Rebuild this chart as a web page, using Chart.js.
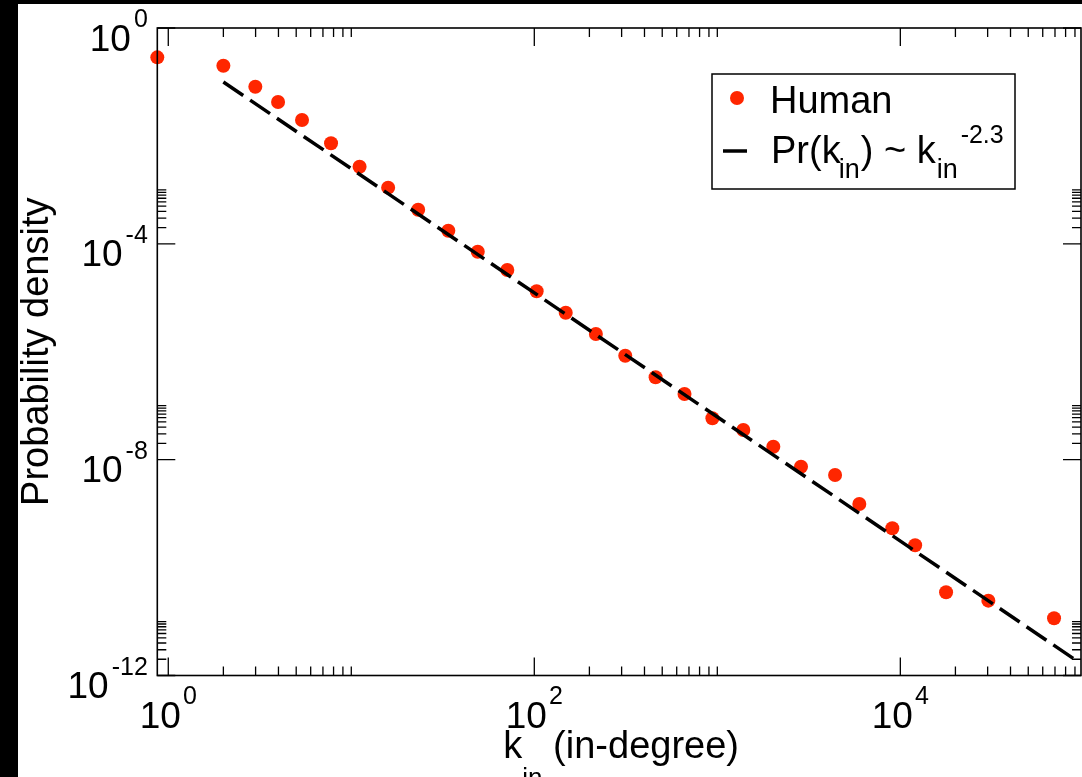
<!DOCTYPE html>
<html>
<head>
<meta charset="utf-8">
<script src="https://cdn.jsdelivr.net/npm/chart.js@4.4.0/dist/chart.umd.min.js"></script>
<style>
  html, body { margin: 0; padding: 0; background: #000; }
  #wrap { position: absolute; left: 18px; top: 4px; width: 1064px; height: 773px; background: #fff; overflow: hidden; }
  canvas { display: block; }
</style>
</head>
<body>
<div id="wrap"><canvas id="chart" width="1064" height="773"></canvas></div>
<script>
// in-degree distribution
const degree = [0.871, 2.0, 2.99, 3.98, 5.38, 7.75, 11.1, 15.9, 23.2, 33.9, 49.1, 71.2, 103, 148.5, 217,
  314, 460, 662, 940, 1387, 2023, 2866, 4400, 5970, 9040, 12050, 17780, 30270, 69180];
const density = [0.286, 0.200, 0.0817, 0.0425, 0.0197, 0.0073, 0.00269, 0.00110, 4.27e-4, 1.75e-4, 7.14e-5,
  3.27e-5, 1.32e-5, 5.29e-6, 2.13e-6, 8.45e-7, 3.36e-7, 1.65e-7, 5.85e-8, 3.55e-8, 1.74e-8, 7.41e-9,
  5.20e-9, 1.51e-9, 5.35e-10, 2.59e-10, 3.48e-11, 2.44e-11, 1.15e-11];

// power-law guide line, its two end points
const fitDegree = [2, 88000];
const fitDensity = [0.1, 2.08e-12];

const xMajor = [1, 100, 10000];
const xMajorExp = ['0', '2', '4'];
const yMajor = [1, 1e-4, 1e-8, 1e-12];
const yMajorExp = ['0', '-4', '-8', '-12'];
const minorSteps = [2, 3, 4, 5, 6, 7, 8, 9, 10];

const seriesName = 'Human';
const fitName = ['Pr(k', 'in', ') ~ k', 'in', '-2.3'];
const xTitle = ['k', 'in', ' (in-degree)'];
const yTitle = 'Probability density';

const FONT = '"Liberation Sans", Arial, Helvetica, sans-serif';
const RED = 'rgb(255, 38, 0)';

const toPoints = (xs, ys) => xs.map((v, i) => ({ x: v, y: ys[i] }));

// draws a run of text pieces (normal / sub / super) and returns its width
const textRun = (ctx, parts, x, y, draw) => {
  let cx = x;
  parts.forEach((p) => {
    ctx.font = `${p.size}px ${FONT}`;
    if (draw) ctx.fillText(p.t, cx, y + (p.dy || 0));
    cx += ctx.measureText(p.t).width + (p.gap || 0);
  });
  return cx - x;
};

const framePlugin = {
  id: 'frame',
  afterDraw(chart) {
    const { ctx, chartArea: a, scales: { x, y } } = chart;
    ctx.save();
    ctx.fillStyle = '#000';
    ctx.strokeStyle = '#000';

    // ticks, mirrored on all four sides
    ctx.lineWidth = 1.3;
    const xTick = (v, len) => {
      const px = x.getPixelForValue(v);
      if (px < a.left - 0.5 || px > a.right + 0.5) return;
      ctx.beginPath();
      ctx.moveTo(px, a.bottom); ctx.lineTo(px, a.bottom - len);
      ctx.moveTo(px, a.top); ctx.lineTo(px, a.top + len);
      ctx.stroke();
    };
    const yTick = (v, len) => {
      const py = y.getPixelForValue(v);
      if (py < a.top - 0.5 || py > a.bottom + 0.5) return;
      ctx.beginPath();
      ctx.moveTo(a.left, py); ctx.lineTo(a.left + len, py);
      ctx.moveTo(a.right, py); ctx.lineTo(a.right - len, py);
      ctx.stroke();
    };
    xMajor.forEach((v) => {
      xTick(v, 18);
      minorSteps.forEach((m) => xTick(v * m, 9));
    });
    yMajor.forEach((v) => {
      yTick(v, 18);
      minorSteps.forEach((m) => yTick(v * m, 9));
    });

    ctx.lineWidth = 1.6;
    ctx.strokeRect(a.left, a.top, a.right - a.left, a.bottom - a.top);

    // tick labels 10^n
    ctx.textAlign = 'left';
    ctx.textBaseline = 'alphabetic';
    xMajor.forEach((v, i) => {
      const parts = [{ t: '10', size: 37, gap: 2 }, { t: xMajorExp[i], size: 25, dy: -24 }];
      const w = textRun(ctx, parts, 0, 0, false);
      textRun(ctx, parts, x.getPixelForValue(v) - w / 2, a.bottom + 52.5, true);
    });
    yMajor.forEach((v, i) => {
      const parts = [{ t: '10', size: 37, gap: 3 }, { t: yMajorExp[i], size: 25, dy: -23.5 }];
      const w = textRun(ctx, parts, 0, 0, false);
      textRun(ctx, parts, a.left - 9.5 - w, y.getPixelForValue(v) + 22.5, true);
    });

    // axis titles
    const xParts = [{ t: xTitle[0], size: 38 }, { t: xTitle[1], size: 26, dy: 28 }, { t: xTitle[2], size: 38 }];
    const xw = textRun(ctx, xParts, 0, 0, false);
    textRun(ctx, xParts, (a.left + a.right) / 2 - xw / 2 + 2, a.bottom + 82, true);

    ctx.save();
    ctx.translate(a.left - 109.5, (a.top + a.bottom) / 2);
    ctx.rotate(-Math.PI / 2);
    ctx.textAlign = 'center';
    ctx.font = `38px ${FONT}`;
    ctx.fillText(yTitle, 0, 0);
    ctx.restore();

    // legend box
    const lx = a.right - 369;
    const ly = a.top + 46;
    ctx.lineWidth = 1.5;
    ctx.strokeRect(lx, ly, 303, 115);
    ctx.fillStyle = RED;
    ctx.beginPath();
    ctx.arc(lx + 25, ly + 24, 7, 0, Math.PI * 2);
    ctx.fill();
    ctx.fillStyle = '#000';
    ctx.font = `38px ${FONT}`;
    ctx.fillText(seriesName, lx + 58, ly + 39);
    ctx.lineWidth = 3.5;
    ctx.beginPath();
    ctx.moveTo(lx + 11, ly + 77);
    ctx.lineTo(lx + 35, ly + 77);
    ctx.stroke();
    textRun(ctx, [
      { t: fitName[0], size: 38, gap: -2 },
      { t: fitName[1], size: 27, dy: 15, gap: 1 },
      { t: fitName[2], size: 38, gap: 1 },
      { t: fitName[3], size: 27, dy: 15, gap: 3 },
      { t: fitName[4], size: 25, dy: -20 }
    ], lx + 59, ly + 89, true);

    ctx.restore();
  }
};

new Chart(document.getElementById('chart'), {
  type: 'scatter',
  data: {
    datasets: [
      {
        type: 'line',
        label: 'fit',
        data: toPoints(fitDegree, fitDensity),
        borderColor: '#000',
        borderWidth: 3.5,
        borderDash: [24, 8.35],
        pointRadius: 0,
        fill: false,
        clip: false,
        order: 0
      },
      {
        label: seriesName,
        data: toPoints(degree, density),
        backgroundColor: RED,
        borderWidth: 0,
        pointRadius: 7,
        clip: false,
        order: 1
      }
    ]
  },
  options: {
    responsive: false,
    animation: false,
    layout: {
      autoPadding: false,
      padding: { left: 139.3, top: 24, right: 1, bottom: 101.5 }
    },
    scales: {
      x: { type: 'logarithmic', min: 0.871, max: 97100, display: false },
      y: { type: 'logarithmic', min: 1e-12, max: 1, display: false }
    },
    plugins: {
      legend: { display: false },
      tooltip: { enabled: false }
    }
  },
  plugins: [framePlugin]
});
</script>
</body>
</html>
